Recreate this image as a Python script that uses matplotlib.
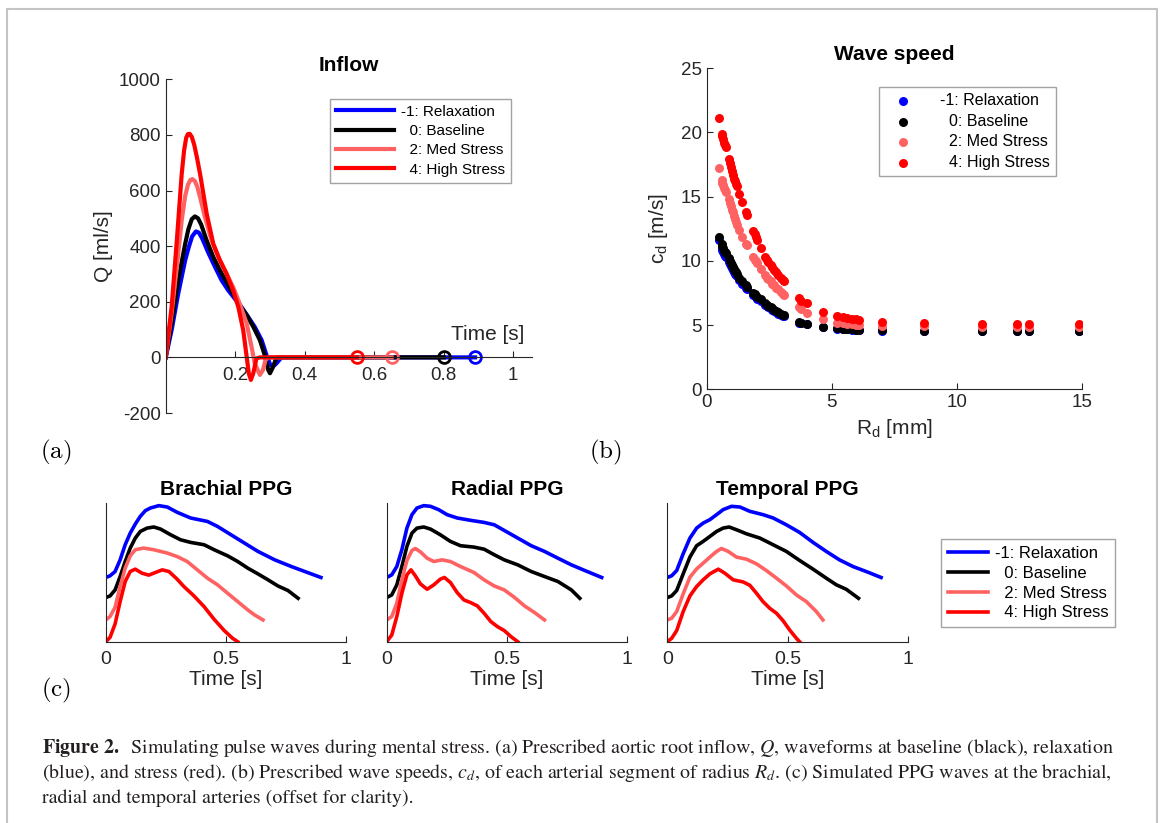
import matplotlib
matplotlib.use("Agg")
import matplotlib.pyplot as plt
from matplotlib.patches import Rectangle

plt.rcParams['font.family'] = ['Liberation Sans', 'DejaVu Sans']
plt.rcParams['axes.unicode_minus'] = False

labels = ['-1: Relaxation', '  0: Baseline', '  2: Med Stress', '  4: High Stress']
colors = ['#0000ff', '#000000', '#ff6262', '#ff0000']
axis_col = '#262626'

# (a) aortic root inflow, Q [ml/s] vs time [s]
t_relax = [0, 0.017, 0.036, 0.056, 0.066, 0.076, 0.087, 0.096, 0.106, 0.122, 0.142, 0.161, 0.180, 0.199,
           0.218, 0.237, 0.256, 0.276, 0.290, 0.301, 0.309, 0.319, 0.333, 0.89]
q_relax = [0, 98, 229, 349, 395, 435, 453, 448, 425, 378, 325, 277, 241, 211,
           181, 146, 110, 62, 8, -27, -33, -21, 0, 0]
t_base = [0, 0.017, 0.036, 0.056, 0.065, 0.075, 0.084, 0.093, 0.102, 0.118, 0.137, 0.156, 0.175, 0.194,
          0.213, 0.233, 0.252, 0.271, 0.285, 0.295, 0.300, 0.307, 0.319, 0.80]
q_base = [0, 122, 277, 408, 460, 497, 507, 500, 478, 420, 361, 313, 271, 229,
          187, 152, 110, 62, 8, -45, -57, -39, 0, 0]
t_med = [0, 0.017, 0.032, 0.046, 0.056, 0.064, 0.071, 0.077, 0.084, 0.091, 0.099, 0.113, 0.132, 0.151,
         0.170, 0.194, 0.213, 0.233, 0.247, 0.256, 0.271, 0.280, 0.287, 0.295, 0.65]
q_med = [0, 158, 325, 492, 580, 621, 638, 641, 634, 613, 575, 504, 420, 361,
         313, 253, 193, 122, 38, -21, -63, -45, -10, 0, 0]
t_high = [0, 0.017, 0.032, 0.046, 0.053, 0.059, 0.064, 0.069, 0.075, 0.082, 0.090, 0.099, 0.118, 0.137,
          0.156, 0.175, 0.194, 0.209, 0.223, 0.233, 0.239, 0.245, 0.252, 0.261, 0.271, 0.55]
q_high = [0, 181, 420, 659, 745, 790, 803, 804, 793, 765, 718, 659, 516, 408,
          349, 301, 241, 181, 98, 2, -57, -81, -57, -4, 0, 0]

# (b) wave speed c_d [m/s] vs segment radius R_d [mm]
r_d = [0.49, 0.60, 0.63, 0.66, 0.70, 0.74, 0.77, 0.88, 0.92, 0.96, 1.00, 1.04, 1.08, 1.12,
       1.16, 1.20, 1.31, 1.42, 1.57, 1.60, 1.87, 1.92, 1.97, 2.03, 2.16, 2.33, 2.40, 2.47,
       2.55, 2.62, 2.70, 2.78, 2.86, 2.95, 3.03, 3.07, 3.67, 3.78, 4.00, 4.64, 5.20, 5.45,
       5.62, 5.80, 5.95, 6.07, 7.00, 8.69, 11.00, 12.40, 12.89, 14.87]
c_relax = [11.6, 11.0, 10.85, 10.7, 10.5, 10.4, 10.3, 9.95, 9.75, 9.6, 9.45, 9.3, 9.15, 9.0,
           8.9, 8.8, 8.5, 8.2, 7.9, 7.8, 7.35, 7.25, 7.15, 7.05, 6.85, 6.6, 6.5, 6.4,
           6.3, 6.2, 6.1, 6.0, 5.9, 5.8, 5.7, 5.68, 5.2, 5.15, 5.05, 4.84, 4.72, 4.69,
           4.67, 4.64, 4.61, 4.59, 4.57, 4.54, 4.54, 4.54, 4.54, 4.54]
c_base = [11.9, 11.3, 11.15, 11.0, 10.8, 10.7, 10.6, 10.2, 10.0, 9.85, 9.7, 9.55, 9.4, 9.25,
          9.1, 9.0, 8.7, 8.4, 8.1, 8.0, 7.5, 7.4, 7.3, 7.2, 7.0, 6.7, 6.6, 6.5,
          6.4, 6.3, 6.2, 6.1, 6.0, 5.9, 5.8, 5.78, 5.25, 5.2, 5.1, 4.88, 4.75, 4.72,
          4.7, 4.67, 4.64, 4.62, 4.6, 4.57, 4.57, 4.57, 4.57, 4.57]
c_med = [17.2, 16.3, 16.1, 15.9, 15.7, 15.5, 15.4, 14.8, 14.5, 14.3, 14.0, 13.8, 13.5, 13.3,
         13.0, 12.8, 12.4, 11.9, 11.3, 11.2, 10.3, 10.1, 10.0, 9.8, 9.4, 8.9, 8.7, 8.6,
         8.4, 8.2, 8.1, 7.9, 7.8, 7.6, 7.4, 7.35, 6.4, 6.25, 5.95, 5.45, 5.2, 5.15,
         5.1, 5.05, 5.0, 5.0, 4.95, 4.9, 4.88, 4.88, 4.88, 4.88]
c_high = [21.1, 19.9, 19.7, 19.5, 19.2, 19.0, 18.9, 17.9, 17.6, 17.3, 17.0, 16.7, 16.4, 16.2,
          16.0, 15.8, 15.2, 14.6, 13.8, 13.6, 12.3, 12.1, 11.9, 11.6, 11.0, 10.3, 10.1, 9.9,
          9.7, 9.5, 9.3, 9.1, 8.9, 8.7, 8.5, 8.4, 7.1, 6.9, 6.7, 6.05, 5.7, 5.6,
          5.55, 5.5, 5.45, 5.4, 5.27, 5.14, 5.09, 5.09, 5.09, 5.09]

# (c) PPG waves (normalised, offset), order: relax, base, med, high
brachial_t = [
    [0, 0.018, 0.039, 0.060, 0.081, 0.102, 0.123, 0.144, 0.165, 0.186, 0.221, 0.256, 0.297,
     0.353, 0.423, 0.465, 0.521, 0.577, 0.633, 0.703, 0.772, 0.828, 0.895],
    [0, 0.018, 0.039, 0.060, 0.081, 0.102, 0.123, 0.144, 0.172, 0.200, 0.228, 0.270, 0.311,
     0.353, 0.409, 0.451, 0.507, 0.549, 0.591, 0.633, 0.675, 0.716, 0.758, 0.800],
    [0, 0.018, 0.039, 0.060, 0.081, 0.102, 0.123, 0.158, 0.200, 0.256, 0.297, 0.339, 0.381,
     0.423, 0.465, 0.507, 0.549, 0.591, 0.619, 0.654],
    [0, 0.018, 0.039, 0.060, 0.081, 0.102, 0.123, 0.151, 0.179, 0.207, 0.235, 0.263, 0.297,
     0.325, 0.367, 0.409, 0.451, 0.493, 0.528, 0.549],
]
brachial_y = [
    [0.463, 0.475, 0.506, 0.590, 0.699, 0.783, 0.848, 0.904, 0.945, 0.964, 0.981, 0.971, 0.933,
     0.892, 0.867, 0.831, 0.771, 0.711, 0.651, 0.590, 0.542, 0.506, 0.463],
    [0.318, 0.330, 0.373, 0.470, 0.578, 0.675, 0.747, 0.795, 0.819, 0.827, 0.812, 0.771, 0.735,
     0.716, 0.699, 0.663, 0.619, 0.578, 0.530, 0.489, 0.446, 0.402, 0.369, 0.313],
    [0.157, 0.181, 0.248, 0.398, 0.530, 0.619, 0.663, 0.675, 0.663, 0.639, 0.614, 0.578, 0.518,
     0.458, 0.410, 0.349, 0.289, 0.229, 0.193, 0.157],
    [0, 0.031, 0.128, 0.289, 0.434, 0.506, 0.523, 0.494, 0.480, 0.499, 0.518, 0.506, 0.451,
     0.398, 0.330, 0.253, 0.161, 0.080, 0.024, 0],
]
radial_t = [
    [0, 0.021, 0.042, 0.063, 0.084, 0.105, 0.126, 0.154, 0.182, 0.216, 0.251, 0.293, 0.349,
     0.405, 0.447, 0.489, 0.545, 0.601, 0.656, 0.712, 0.768, 0.824, 0.894],
    [0, 0.021, 0.042, 0.063, 0.084, 0.105, 0.126, 0.154, 0.182, 0.223, 0.265, 0.307, 0.363,
     0.405, 0.447, 0.489, 0.545, 0.601, 0.656, 0.712, 0.768, 0.803],
    [0, 0.021, 0.042, 0.063, 0.084, 0.105, 0.119, 0.140, 0.168, 0.196, 0.230, 0.265, 0.307,
     0.363, 0.405, 0.447, 0.489, 0.531, 0.573, 0.615, 0.656],
    [0, 0.021, 0.042, 0.063, 0.084, 0.101, 0.119, 0.140, 0.168, 0.196, 0.223, 0.240, 0.265,
     0.293, 0.321, 0.349, 0.377, 0.405, 0.433, 0.461, 0.489, 0.517, 0.545],
]
radial_y = [
    [0.463, 0.482, 0.542, 0.663, 0.819, 0.916, 0.964, 0.981, 0.976, 0.952, 0.916, 0.892, 0.875,
     0.860, 0.843, 0.802, 0.747, 0.692, 0.651, 0.602, 0.554, 0.513, 0.463],
    [0.318, 0.337, 0.410, 0.542, 0.687, 0.783, 0.819, 0.827, 0.812, 0.771, 0.723, 0.692, 0.682,
     0.667, 0.627, 0.590, 0.554, 0.506, 0.470, 0.434, 0.373, 0.313],
    [0.157, 0.181, 0.277, 0.446, 0.586, 0.658, 0.672, 0.648, 0.602, 0.578, 0.590, 0.578, 0.542,
     0.499, 0.446, 0.402, 0.373, 0.320, 0.258, 0.210, 0.157],
    [0, 0.048, 0.181, 0.349, 0.482, 0.518, 0.475, 0.417, 0.378, 0.410, 0.451, 0.463, 0.427,
     0.354, 0.301, 0.282, 0.258, 0.205, 0.145, 0.108, 0.080, 0.036, 0],
]
temporal_t = [
    [0, 0.018, 0.039, 0.066, 0.094, 0.122, 0.149, 0.177, 0.205, 0.232, 0.267, 0.302, 0.343,
     0.398, 0.440, 0.495, 0.550, 0.606, 0.661, 0.716, 0.772, 0.827, 0.889],
    [0, 0.018, 0.039, 0.066, 0.094, 0.122, 0.149, 0.177, 0.205, 0.232, 0.257, 0.288, 0.329,
     0.385, 0.440, 0.495, 0.550, 0.606, 0.661, 0.703, 0.744, 0.795],
    [0, 0.018, 0.039, 0.066, 0.094, 0.122, 0.149, 0.177, 0.205, 0.225, 0.253, 0.288, 0.329,
     0.371, 0.412, 0.454, 0.495, 0.537, 0.578, 0.620, 0.647],
    [0, 0.018, 0.039, 0.066, 0.094, 0.122, 0.149, 0.177, 0.212, 0.239, 0.274, 0.315, 0.343,
     0.371, 0.398, 0.426, 0.454, 0.481, 0.509, 0.537, 0.550],
]
temporal_y = [
    [0.463, 0.475, 0.513, 0.634, 0.747, 0.819, 0.855, 0.880, 0.916, 0.952, 0.976, 0.971, 0.940,
     0.916, 0.892, 0.843, 0.788, 0.716, 0.651, 0.590, 0.542, 0.506, 0.463],
    [0.318, 0.330, 0.369, 0.489, 0.610, 0.692, 0.723, 0.759, 0.795, 0.819, 0.827, 0.807, 0.778,
     0.747, 0.699, 0.651, 0.586, 0.523, 0.458, 0.410, 0.378, 0.313],
    [0.157, 0.169, 0.217, 0.345, 0.465, 0.525, 0.566, 0.610, 0.651, 0.672, 0.651, 0.610, 0.595,
     0.561, 0.513, 0.458, 0.402, 0.337, 0.289, 0.217, 0.157],
    [0, 0.024, 0.080, 0.217, 0.330, 0.398, 0.446, 0.489, 0.523, 0.494, 0.446, 0.431, 0.407,
     0.349, 0.289, 0.241, 0.205, 0.152, 0.084, 0.024, 0],
]

W, H = 1168, 823
fig = plt.figure(figsize=(W / 100, H / 100), dpi=100)


def fbox(left, top, right, bottom):
    return [left / W, 1 - bottom / H, (right - left) / W, (bottom - top) / H]


# ---- (a) Inflow
ax = fig.add_axes(fbox(165.7, 79.3, 531.7, 413))
inflow = [(t_relax, q_relax), (t_base, q_base), (t_med, q_med), (t_high, q_high)]
for (t, q), c, lab in zip(inflow, colors, labels):
    ax.plot(t, q, color=c, lw=3, label=lab, solid_joinstyle='round')
for (t, q), c in zip(inflow, colors):
    ax.plot(t[-1], q[-1], 'o', ms=8.5, mfc='none', mec=c, mew=2)
ax.set_xlim(0, 1.053)
ax.set_ylim(-200, 1000)
ax.set_yticks(range(-200, 1001, 200))
ax.set_xticks([0.2, 0.4, 0.6, 0.8, 1])
ax.set_xticklabels(['0.2', '0.4', '0.6', '0.8', '1'])
ax.spines['bottom'].set_position(('data', 0))
ax.spines['top'].set_visible(False)
ax.spines['right'].set_visible(False)
ax.tick_params(direction='in', labelsize=13.5, colors=axis_col, length=4)
ax.tick_params(axis='x', pad=7)
for s in ax.spines.values():
    s.set_color(axis_col)
ax.text(0.925, 84, 'Time [s]', ha='center', va='center', fontsize=15, color=axis_col)
ax.set_ylabel('Q [ml/s]', fontsize=15, color=axis_col, labelpad=4)
ax.set_title('Inflow', fontsize=15, fontweight='bold', pad=6)
leg = ax.legend(loc='center', bbox_to_anchor=(0.696, 0.816), fontsize=11,
                handlelength=3.8, handletextpad=0.4, labelspacing=0.35,
                fancybox=False, edgecolor='#8c8c8c', borderpad=0.4)
leg.get_frame().set_linewidth(1)

# ---- (b) Wave speed
ax = fig.add_axes(fbox(706.7, 68.3, 1082, 389.3))
for cv, c, lab in zip([c_relax, c_base, c_med, c_high], colors, labels):
    ax.scatter(r_d, cv, s=42, color=c, label=lab, linewidths=0)
ax.set_xlim(0, 15)
ax.set_ylim(0, 25)
ax.set_xticks([0, 5, 10, 15])
ax.set_yticks([0, 5, 10, 15, 20, 25])
ax.spines['top'].set_visible(False)
ax.spines['right'].set_visible(False)
ax.tick_params(direction='in', labelsize=13.5, colors=axis_col, length=4)
for s in ax.spines.values():
    s.set_color(axis_col)
ax.set_xlabel(r'R$_\mathregular{d}$ [mm]', fontsize=15, color=axis_col, labelpad=4)
ax.set_ylabel(r'c$_\mathregular{d}$ [m/s]', fontsize=15, color=axis_col, labelpad=8)
ax.set_title('Wave speed', fontsize=15, fontweight='bold', pad=6)
leg = ax.legend(loc='center', bbox_to_anchor=(0.696, 0.803), fontsize=11.5,
                handlelength=2.2, handletextpad=1.2, labelspacing=0.35,
                fancybox=False, edgecolor='#8c8c8c', borderpad=0.4, scatterpoints=1)
leg.get_frame().set_linewidth(1)

# ---- (c) PPG waves
sites = [('Brachial PPG', brachial_t, brachial_y, 105.7),
         ('Radial PPG', radial_t, radial_y, 386.7),
         ('Temporal PPG', temporal_t, temporal_y, 667.3)]
handles = []
for title, ts, ys, left in sites:
    ax = fig.add_axes(fbox(left, 503, left + 240.5, 641.7))
    handles = []
    for t, y, c, lab in zip(ts, ys, colors, labels):
        h, = ax.plot(t, y, color=c, lw=2.6, label=lab, solid_joinstyle='round')
        handles.append(h)
    ax.set_xlim(0, 1)
    ax.set_ylim(0, 1)
    ax.set_xticks([0, 0.5, 1])
    ax.set_xticklabels(['0', '0.5', '1'])
    ax.set_yticks([])
    ax.spines['top'].set_visible(False)
    ax.spines['right'].set_visible(False)
    ax.tick_params(direction='in', labelsize=14, colors=axis_col, length=4, pad=7)
    for s in ax.spines.values():
        s.set_color(axis_col)
    ax.set_xlabel('Time [s]', fontsize=15, color=axis_col, labelpad=1)
    ax.set_title(title, fontsize=15, fontweight='bold', pad=6)

leg = fig.legend(handles=handles, loc='center', bbox_to_anchor=(1028 / W, 1 - 583 / H),
                 fontsize=12, handlelength=2.4, handletextpad=0.4, labelspacing=0.3,
                 fancybox=False, edgecolor='#8c8c8c', borderpad=0.4)
leg.get_frame().set_linewidth(1)

# panel letters
for lab, x, y in [('(a)', 56, 452), ('(b)', 605, 452), ('(c)', 56, 690)]:
    fig.text(x / W, 1 - y / H, r'$\mathrm{' + lab + '}$', fontsize=18,
             math_fontfamily='cm', ha='center', va='center')

# caption
cap = [
    r'$\mathbf{Figure\ 2.}$  Simulating pulse waves during mental stress. (a) Prescribed aortic root inflow, $Q$, '
    r'waveforms at baseline (black), relaxation',
    r'(blue), and stress (red). (b) Prescribed wave speeds, $c_d$, of each arterial segment of radius $R_d$. '
    r'(c) Simulated PPG waves at the brachial,',
    'radial and temporal arteries (offset for clarity).',
]
for i, line in enumerate(cap):
    fig.text(42 / W, 1 - (748 + 25 * i) / H, line, fontsize=14.3, family='STIXGeneral',
             math_fontfamily='stix', ha='left', va='center', color='#231f20')

fig.patches.append(Rectangle((7 / W, -0.05), (1157 - 7) / W, 1 - 9 / H + 0.05,
                             transform=fig.transFigure, fill=False,
                             edgecolor='#c4c4c4', lw=1.5))

fig.savefig('out.png', dpi=100)
